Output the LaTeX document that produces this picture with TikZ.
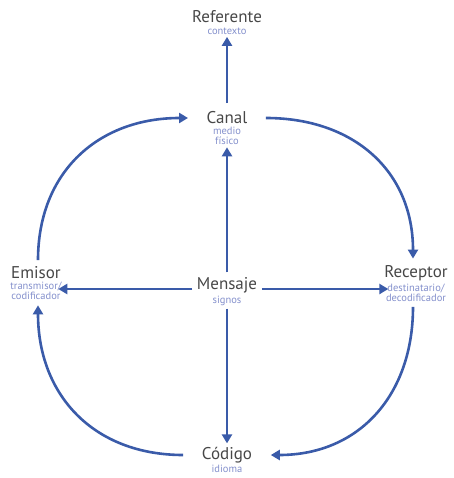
\documentclass[tikz,border=0pt]{standalone}
\usepackage{fontspec}
\setmainfont{PT Sans}
\usetikzlibrary{arrows.meta,positioning}
\definecolor{flechaazul}{HTML}{3A5BA9}
\definecolor{textogris}{HTML}{474747}
\definecolor{notaazul}{HTML}{8490CC}

\begin{document}
\begin{tikzpicture}[x=1pt,y=1pt,
    titulo/.style={text=textogris, font=\fontsize{17}{17}\selectfont, inner sep=0.5pt},
    nota/.style={text=notaazul, font=\fontsize{10.5}{9.5}\selectfont, align=center, inner sep=0.5pt},
    flecha/.style={draw=flechaazul, line width=2.6pt, -{Triangle[length=9pt,width=10pt]}}]

\useasboundingbox (0,0) rectangle (453,-478);

% Nodos
\node[titulo] (referente) at (227,-17) {Referente};
\node[nota, below=3pt of referente] (contexto) {contexto};

\node[titulo] (canal) at (227,-118) {Canal};
\node[nota, below=2pt of canal] (medio) {medio\\físico};

\node[titulo] (mensaje) at (227,-285) {Mensaje};
\node[nota, below=2pt of mensaje] (signos) {signos};

\node[titulo] (emisor) at (36,-273) {Emisor};
\node[nota, below=2pt of emisor] (transmisor) {transmisor/\\codificador};

\node[titulo] (receptor) at (416,-273) {Receptor};
\node[nota, below=2pt of receptor] (destinatario) {destinatario/\\decodificador};

\node[titulo] (codigo) at (227,-455) {Código};
\node[nota, below=1pt of codigo] (idioma) {idioma};

% Flechas rectas desde el mensaje
\draw[flecha] ([yshift=8pt]canal.north) -- ([yshift=-2pt]contexto.south);
\draw[flecha] ([yshift=4pt]mensaje.north) -- ([yshift=-2pt]medio.south);
\draw[flecha] ([yshift=-2pt]signos.south) -- ([yshift=3pt]codigo.north);
\draw[flecha] ([yshift=-4pt,xshift=-4pt]mensaje.west) -- ([yshift=-4pt,xshift=-4pt]mensaje.west -| transmisor.east);
\draw[flecha] ([yshift=-4pt,xshift=4pt]mensaje.east) -- ([yshift=-4pt,xshift=3pt]mensaje.east -| destinatario.west);

% Flechas curvas alrededor
\draw[flecha] ([xshift=2pt,yshift=6pt]emisor.north) to[out=90,in=180,looseness=1.1] ([xshift=-18pt]canal.west);
\draw[flecha] ([xshift=18pt]canal.east) to[out=0,in=90,looseness=1.1] ([xshift=-3pt,yshift=6pt]receptor.north);
\draw[flecha] ([xshift=-3pt,yshift=-5pt]destinatario.south) to[out=-90,in=0,looseness=1.1] ([xshift=18pt]codigo.east);
\draw[flecha] ([xshift=-18pt]codigo.west) to[out=180,in=-90,looseness=1.1] ([xshift=2pt,yshift=-5pt]transmisor.south);

\end{tikzpicture}
\end{document}
